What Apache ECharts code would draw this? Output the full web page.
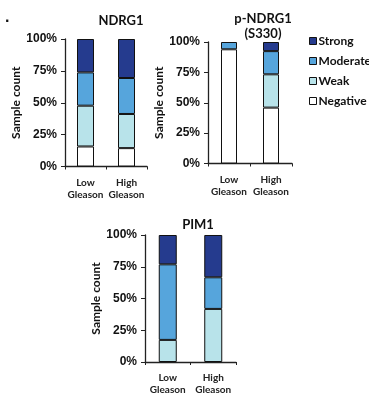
<!DOCTYPE html>
<html><head><meta charset="utf-8">
<script src="https://cdn.jsdelivr.net/npm/echarts@6/dist/echarts.min.js"></script>
<style>html,body{margin:0;padding:0;background:#fff}#c{width:369px;height:396px}</style>
</head><body><div id="c"></div>
<script>
const categories = ['Low\nGleason', 'High\nGleason'];
const levels = ['Negative', 'Weak', 'Moderate', 'Strong'];
const yTicks = [0, 25, 50, 75, 100];
// NDRG1 (percent of samples)
const ndrg1Negative = [15.7, 14.4];
const ndrg1Weak = [32.0, 26.8];
const ndrg1Moderate = [26.1, 28.2];
const ndrg1Strong = [26.2, 30.6];
// p-NDRG1 (S330)
const pndrg1Negative = [94.0, 46.0];
const pndrg1Weak = [0, 27.4];
const pndrg1Moderate = [6.0, 19.1];
const pndrg1Strong = [0, 7.5];
// PIM1
const pim1Negative = [0, 0];
const pim1Weak = [17.4, 41.8];
const pim1Moderate = [59.5, 24.9];
const pim1Strong = [23.1, 33.3];

const colors = {Negative:'#ffffff', Weak:'#b8e3ea', Moderate:'#56a5dc', Strong:'#253b8e'};
const panels = [
  {title:'NDRG1', data:[ndrg1Negative, ndrg1Weak, ndrg1Moderate, ndrg1Strong], grid:{left:65, top:39, width:82, height:127.5}, bw:17},
  {title:'p-NDRG1\n(S330)', data:[pndrg1Negative, pndrg1Weak, pndrg1Moderate, pndrg1Strong], grid:{left:208, top:42, width:84, height:121.5}, bw:16},
  {title:'PIM1', data:[pim1Negative, pim1Weak, pim1Moderate, pim1Strong], grid:{left:145, top:235, width:91, height:130}, bw:18}
];
const titlePos = [{left:116, top:8}, {left:258, top:6}, {left:193, top:212}];

const grid = [], xAxis = [], yAxis = [], series = [], title = [];
const fontT = 'Lato, "Open Sans", sans-serif';
panels.forEach((p, i) => {
  grid.push(Object.assign({containLabel:false}, p.grid));
  title.push({text:p.title, left:titlePos[i].left, top:titlePos[i].top, textAlign:'center',
    textStyle:{fontFamily:fontT, fontWeight:'bold', fontSize:13, color:'#111', lineHeight:15}});
  xAxis.push({type:'category', gridIndex:i, data:categories,
    axisLine:{lineStyle:{color:'#222', width:1.3}},
    axisTick:{show:true, length:3, lineStyle:{color:'#222'}},
    axisLabel:{interval:0, margin:10, fontFamily:fontT, fontWeight:'bold', fontSize:10, lineHeight:12, color:'#222'}});
  yAxis.push({type:'value', gridIndex:i, min:yTicks[0], max:yTicks[yTicks.length-1], interval:25,
    name:'Sample count', nameLocation:'middle', nameGap:42,
    nameTextStyle:{fontFamily:fontT, fontWeight:'bold', fontSize:12, color:'#111'},
    axisLine:{show:true, lineStyle:{color:'#222', width:1.3}},
    axisTick:{show:true, length:4, lineStyle:{color:'#222'}},
    splitLine:{show:false},
    axisLabel:{formatter:'{value}%', margin:8, fontFamily:'"Liberation Sans", Arial, sans-serif', fontWeight:'bold', fontSize:12, color:'#111'}});
  levels.forEach((lv, k) => {
    series.push({name:lv, type:'bar', stack:'s'+i, xAxisIndex:i, yAxisIndex:i, barWidth:p.bw,
      data:p.data[k].map(v => v === 0 ? null : v),
      itemStyle:{color:colors[lv], borderColor:'#111', borderWidth:1}});
  });
});
title.push({text:'.', left:0, top:5, textStyle:{fontSize:16, fontWeight:'bold', color:'#111'}});

const chart = echarts.init(document.getElementById('c'), null, {renderer:'canvas'});
chart.setOption({
  animation:false,
  title, grid, xAxis, yAxis, series,
  legend:{data:['Strong','Moderate','Weak','Negative'], orient:'vertical', left:304, top:29,
    icon:'rect', itemWidth:7, itemHeight:7, itemGap:6,
    itemStyle:{borderColor:'#111', borderWidth:1},
    textStyle:{fontFamily:fontT, fontWeight:'bold', fontSize:12, color:'#111', lineHeight:14, padding:[0,0,0,-3]},
    selectedMode:false}
});
</script></body></html>
